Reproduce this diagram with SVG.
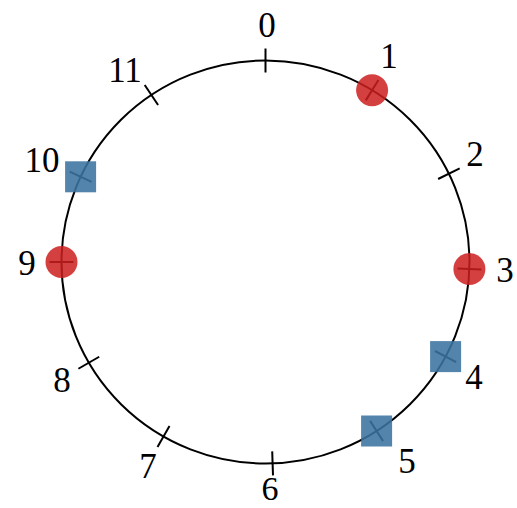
<svg xmlns="http://www.w3.org/2000/svg" width="517" height="508" viewBox="0 0 517 508">
<style>
.ring{fill:none;stroke:#000;stroke-width:2}
.tick{stroke:#000;stroke-width:2;fill:none}
.red{fill:#cc1f1f;fill-opacity:0.85}
.blue{fill:#3a73a0;fill-opacity:0.88}
.lbl{font-family:"Liberation Serif","Times New Roman",serif;font-size:35px;fill:#000;text-anchor:middle}
</style>
<rect width="517" height="508" fill="#fff"/>
<g id="connectors">
<ellipse class="ring" cx="265.5" cy="262" rx="204" ry="201.5"/>
<line class="tick" x1="265.5" y1="48.5" x2="265.5" y2="72.5"/>
<line class="tick" x1="378.4" y1="80" x2="365.8" y2="100.4"/>
<line class="tick" x1="459.7" y1="168.4" x2="438.1" y2="179"/>
<line class="tick" x1="481.4" y1="269.4" x2="457.4" y2="268.6"/>
<line class="tick" x1="456.2" y1="362.2" x2="435" y2="351"/>
<line class="tick" x1="383.1" y1="441.1" x2="370.1" y2="420.9"/>
<line class="tick" x1="273" y1="475.4" x2="272.2" y2="451.4"/>
<line class="tick" x1="157.5" y1="446.9" x2="169.5" y2="426.1"/>
<line class="tick" x1="78.4" y1="368.75" x2="99.2" y2="356.75"/>
<line class="tick" x1="49.5" y1="262" x2="73.5" y2="262"/>
<line class="tick" x1="69.7" y1="171.7" x2="91.5" y2="181.9"/>
<line class="tick" x1="144.7" y1="85.05" x2="158.1" y2="104.95"/>
</g>
<g id="node0"><text class="lbl" x="267" y="36.5">0</text></g>
<g id="node1"><circle class="red" cx="372.1" cy="90.2" r="16"/><text class="lbl" x="389" y="68">1</text></g>
<g id="node2"><text class="lbl" x="475" y="166">2</text></g>
<g id="node3"><circle class="red" cx="469.4" cy="269" r="16"/><text class="lbl" x="505" y="282">3</text></g>
<g id="node4"><rect class="blue" x="430.1" y="341.1" width="31" height="31"/><text class="lbl" x="474" y="389">4</text></g>
<g id="node5"><rect class="blue" x="361.1" y="415.5" width="31" height="31"/><text class="lbl" x="407" y="473">5</text></g>
<g id="node6"><text class="lbl" x="270" y="500" style="font-size:34px">6</text></g>
<g id="node7"><text class="lbl" x="148" y="478">7</text></g>
<g id="node8"><text class="lbl" x="62" y="392">8</text></g>
<g id="node9"><circle class="red" cx="61.5" cy="262" r="16"/><text class="lbl" x="27" y="275">9</text></g>
<g id="node10"><rect class="blue" x="65.1" y="161.3" width="31" height="31"/><text class="lbl" x="42" y="172">10</text></g>
<g id="node11"><text class="lbl" x="125" y="82">11</text></g>
</svg>
